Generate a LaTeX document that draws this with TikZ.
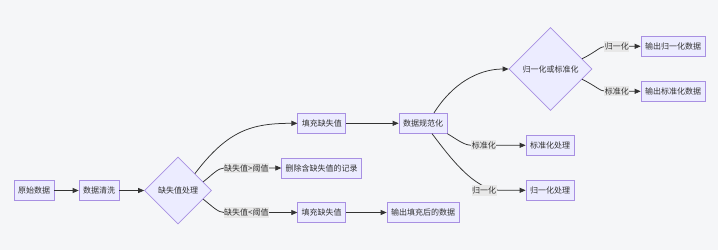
\documentclass[tikz,border=0pt]{standalone}
\usepackage{fontspec}
\setmainfont{Noto Sans CJK SC}
\definecolor{FlowBg}{HTML}{F5F6F8}
\definecolor{FlowFill}{HTML}{ECECFF}
\definecolor{FlowBorder}{HTML}{A890E2}
\definecolor{FlowText}{HTML}{333333}
\definecolor{FlowLabel}{HTML}{E8E8E8}
\usetikzlibrary{arrows.meta, shapes.geometric}

\begin{document}
\begin{tikzpicture}[x=1pt, y=-1pt, font=\fontsize{8}{9.6}\selectfont, text=FlowText,
	box/.style={draw=FlowBorder, fill=FlowFill, line width=0.7pt, minimum height=20pt, inner xsep=4pt, inner ysep=2pt},
	test/.style={diamond, draw=FlowBorder, fill=FlowFill, line width=0.7pt, inner sep=0pt},
	lbl/.style={fill=FlowLabel, inner xsep=0.5pt, inner ysep=1.5pt},
	arr/.style={draw=FlowText, line width=0.75pt, -{Triangle[length=6pt, width=5pt]}}]
	\fill[FlowBg] (0,0) rectangle (718,250);
	\node[box] (raw) at (34,190.5) {原始数据};
	\node[box] (clean) at (99,190.5) {数据清洗};
	\node[test, minimum width=67pt, minimum height=67pt] (miss) at (178,190.5) {缺失值处理};
	\node[box] (fillup) at (321.8,123.3) {填充缺失值};
	\node[box] (del) at (321.7,168) {删除含缺失值的记录};
	\node[box] (filldown) at (321.7,212.5) {填充缺失值};
	\node[box] (norm) at (423,123.3) {数据规范化};
	\node[box] (out) at (423,212.5) {输出填充后的数据};
	\node[test, minimum width=83pt, minimum height=83pt] (pick) at (550.5,69) {归一化或标准化};
	\node[box] (outnorm) at (673,46.3) {输出归一化数据};
	\node[box] (outstd) at (673,91.3) {输出标准化数据};
	\node[box] (std) at (550,145.3) {标准化处理};
	\node[box] (nrm) at (550,190.3) {归一化处理};
	\draw[arr] (raw) -- (clean);
	\draw[arr] (clean) -- (miss);
	\draw[arr] (miss.north east) .. controls (228,130) and (252,123.3) .. (fillup.west);
	\draw[arr] (miss.19) .. controls (212,175) and (218,168) .. (224,168) -- node[lbl, pos=0.39] {缺失值>阈值} (del.west);
	\draw[arr] (miss.-19) .. controls (212,206) and (218,212.5) .. (224,212.5) -- node[lbl, pos=0.305] {缺失值<阈值} (filldown.west);
	\draw[arr] (fillup) -- (norm);
	\draw[arr] (filldown) -- (out);
	\draw[arr] ([xshift=11pt]norm.north) .. controls (452,84) and (478,69) .. (pick.west);
	\draw[arr] (norm.south east) .. controls (458,140) and (464,145.3) .. (472,145.3) -- node[lbl, pos=0.22] {标准化} (std.west);
	\draw[arr] ([xshift=9pt]norm.south) .. controls (449,156) and (474,190.3) .. (500,190.3) -- (nrm.west) node[lbl] at (484,190.3) {归一化};
	\draw[arr] (pick.18) .. controls (596,52) and (600,46.3) .. (605.7,46.3) -- node[lbl, pos=0.32] {归一化} (outnorm.west);
	\draw[arr] (pick.-18) .. controls (596,86) and (600,91.3) .. (605.7,91.3) -- node[lbl, pos=0.32] {标准化} (outstd.west);
\end{tikzpicture}
\end{document}
